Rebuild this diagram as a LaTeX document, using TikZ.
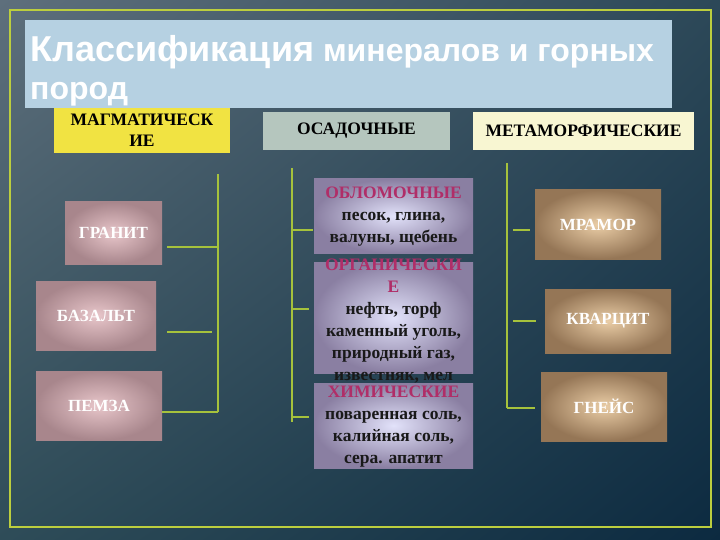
\documentclass[tikz,border=0pt]{standalone}
\usepackage{fontspec}
\usepackage{tikz}
\usetikzlibrary{positioning, shadings}
\newfontfamily\boxfont{Liberation Serif}
\newfontfamily\titlefont{Liberation Sans}
\definecolor{bgul}{HTML}{5E6F7C}
\definecolor{bgur}{HTML}{2C4858}
\definecolor{bgll}{HTML}{2E4C58}
\definecolor{bglr}{HTML}{0C2A40}
\definecolor{framegreen}{HTML}{BCCE3E}
\definecolor{linegreen}{HTML}{A6C23C}
\definecolor{titleblue}{HTML}{B6D1E2}
\definecolor{magyellow}{HTML}{F1E342}
\definecolor{sedgrey}{HTML}{B5C6BE}
\definecolor{metacream}{HTML}{F8F6D2}
\definecolor{pinkin}{HTML}{E8C6CA}
\definecolor{pinkout}{HTML}{A8868C}
\definecolor{tanin}{HTML}{EACDA6}
\definecolor{tanout}{HTML}{957656}
\definecolor{lavin}{HTML}{E2E2FA}
\definecolor{lavout}{HTML}{8A7FA2}
\definecolor{sedhead}{HTML}{B02E68}

\begin{document}
\begin{tikzpicture}[
  x=1pt, y=-1pt,
  every node/.style={inner sep=0pt},
  branch/.style={draw=linegreen, line width=1.4pt},
  headbox/.style={align=center, minimum height=38pt,
    font=\boxfont\bfseries\fontsize{17.5}{21}\selectfont},
  rockbox/.style={inner color=pinkin, outer color=pinkout, text=white,
    minimum width=126pt, minimum height=69pt,
    font=\boxfont\bfseries\fontsize{17}{20}\selectfont},
  metabox/.style={rockbox, inner color=tanin, outer color=tanout},
  sedbox/.style={inner color=lavin, outer color=lavout,
    minimum width=159pt},
  sedtext/.style={align=center, text=black!90,
    font=\boxfont\bfseries\fontsize{17.5}{22}\selectfont},
  titletext/.style={anchor=base west, text=white,
    font=\titlefont\bfseries\fontsize{32}{36}\selectfont}
]
\useasboundingbox (0,0) rectangle (720,540);
% Background and frame
\shade[upper left=bgul, upper right=bgur, lower left=bgll, lower right=bglr]
  (0,0) rectangle (720,540);
\draw[framegreen, line width=2pt] (10,10) rectangle (711,527);

% Title
\node[fill=titleblue, minimum width=647pt, minimum height=88pt] (titlebox) at (348.5,64) {};
\node[titletext] (title1) at (30,62) {{\fontsize{36}{40}\selectfont Классификация} минералов и горных};
\node[titletext] (title2) at (30,100) {пород};

% Headers
\node[headbox, fill=magyellow, minimum width=176pt, minimum height=45pt] (magm) at (142,130.5) {МАГМАТИЧЕСК\\ИЕ};
\node[headbox, fill=sedgrey, minimum width=187pt] (osad) at (356.5,131) {ОСАДОЧНЫЕ};
\node[headbox, fill=metacream, minimum width=221pt] (meta) at (583.5,131) {МЕТАМОРФИЧЕСКИЕ};

% Magmatic rocks
\node[rockbox, minimum width=97pt, minimum height=62pt] (granit) at (113.5,233) {ГРАНИТ};
\node[rockbox, minimum width=120pt] (bazalt) at (96,315.5) {БАЗАЛЬТ};
\node[rockbox] (pemza) at (99,405.5) {ПЕМЗА};

\coordinate (magtop) at (218,174);
\coordinate (magbot) at (218,412);
\draw[branch] (magtop) -- (magbot);
\draw[branch] ([shift={(5,14)}]granit.east) coordinate (g1) -- (g1 -| magtop);
\draw[branch] ([shift={(11,16.5)}]bazalt.east) coordinate (b1) -- ([xshift=-6pt]b1 -| magtop);
\draw[branch] ([shift={(0,6.5)}]pemza.east) coordinate (p1) -- (p1 -| magtop);

% Sedimentary rocks
\node[sedbox, minimum height=74pt] (oblom) at (393.5,216) {};
\node[sedtext] (oblom-t) at (393.5,217) {\textcolor{sedhead}{ОБЛОМОЧНЫЕ}\\песок, глина,\\валуны, щебень};
\node[sedbox, minimum height=111pt] (organ) at (393.5,317.5) {};
\node[sedtext] (organ-t) at (393.5,321) {\textcolor{sedhead}{ОРГАНИЧЕСКИ}\\\textcolor{sedhead}{Е}\\нефть, торф\\каменный уголь,\\природный газ,\\известняк, мел};
\node[sedbox, minimum height=85pt] (chem) at (393.5,425.5) {};
\node[sedtext] (chem-t) at (393.5,427) {\textcolor{sedhead}{ХИМИЧЕСКИЕ}\\поваренная соль,\\калийная соль,\\сера. апатит};

\coordinate (sedtop) at (292,168);
\coordinate (sedbot) at (292,422);
\draw[branch] (sedtop) -- (sedbot);
\draw[branch] ([shift={(-1,14)}]oblom.west) coordinate (o1) -- (o1 -| sedtop);
\draw[branch] ([shift={(-5,-8.5)}]organ.west) coordinate (o2) -- (o2 -| sedtop);
\draw[branch] ([shift={(-5,-8.5)}]chem.west) coordinate (o3) -- (o3 -| sedtop);

% Metamorphic rocks
\node[metabox] (mramor) at (598,224.5) {МРАМОР};
\node[metabox, minimum height=64pt] (kvarcit) at (608,321) {КВАРЦИТ};
\node[metabox] (gneis) at (604,406.5) {ГНЕЙС};

\coordinate (metatop) at (507,163);
\coordinate (metabot) at (507,408);
\draw[branch] (metatop) -- (metabot);
\draw[branch] ([shift={(-5,5.5)}]mramor.west) coordinate (m1) -- ([xshift=6pt]m1 -| metatop);
\draw[branch] ([shift={(-9,0)}]kvarcit.west) coordinate (m2) -- ([xshift=6pt]m2 -| metatop);
\draw[branch] ([shift={(-6,1.5)}]gneis.west) coordinate (m3) -- (m3 -| metatop);
\end{tikzpicture}
\end{document}
